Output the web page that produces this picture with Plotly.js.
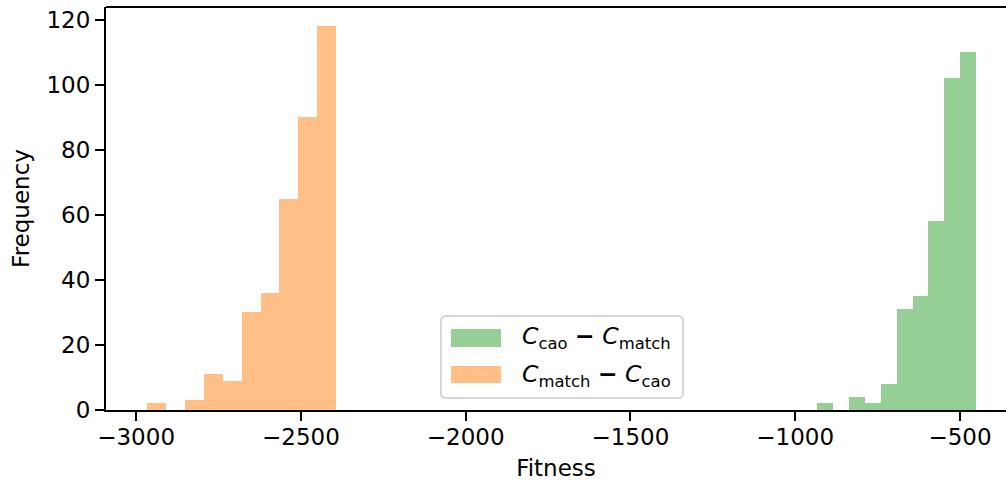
<!DOCTYPE html>
<html>
<head>
<meta charset="utf-8">
<script src="https://cdn.plot.ly/plotly-3.0.1.min.js"></script>
<style>html,body{margin:0;padding:0;background:#fff;overflow:hidden}</style>
</head>
<body>
<div id="chart" style="width:1006px;height:481px"></div>
<script>
// Orange histogram: C_match - C_cao (bin centers and counts)
const orangeCenters = [-2937.1, -2879.9, -2822.6, -2765.4, -2708.2, -2650.9, -2593.7, -2536.5, -2479.3, -2422.0];
const orangeCounts  = [2, 0, 3, 11, 9, 30, 36, 65, 90, 118];
const orangeWidth = 57.23;

// Green histogram: C_cao - C_match
const greenCenters = [-908.3, -860.2, -812.1, -764.0, -715.9, -667.8, -619.7, -571.6, -523.5, -475.4];
const greenCounts  = [2, 0, 4, 2, 8, 31, 35, 58, 102, 110];
const greenWidth = 48.09;

const xTicks = [-3000, -2500, -2000, -1500, -1000, -500];
const xTickLabels = ["−3000", "−2500", "−2000", "−1500", "−1000", "−500"];
const yTicks = [0, 20, 40, 60, 80, 100, 120];

const seriesNames = [
  "<i>C</i><sub>cao</sub> <b>−</b> <i>C</i><sub>match</sub>",
  "<i>C</i><sub>match</sub> <b>−</b> <i>C</i><sub>cao</sub>"
];
const greenColor = "rgba(44,160,44,0.5)";
const orangeColor = "rgba(255,127,14,0.5)";

const font = "DejaVu Sans, sans-serif";

const traces = [
  {
    type: "bar", x: greenCenters, y: greenCounts,
    width: greenCenters.map(() => greenWidth),
    marker: {color: greenColor, line: {width: 0}},
    name: seriesNames[0]
  },
  {
    type: "bar", x: orangeCenters, y: orangeCounts,
    width: orangeCenters.map(() => orangeWidth),
    marker: {color: orangeColor, line: {width: 0}},
    name: seriesNames[1]
  }
];

// manual legend (matplotlib style: wide patches, rounded frame)
const lx0 = 0.3722, lx1 = 0.6411, ly0 = 0.0298, ly1 = 0.2333, r = 0.006;
const legendShapes = [
  {type: "path", xref: "paper", yref: "paper",
   path: `M ${lx0 + r} ${ly0} L ${lx1 - r} ${ly0} Q ${lx1} ${ly0} ${lx1} ${ly0 + r*2} L ${lx1} ${ly1 - r*2} Q ${lx1} ${ly1} ${lx1 - r} ${ly1} L ${lx0 + r} ${ly1} Q ${lx0} ${ly1} ${lx0} ${ly1 - r*2} L ${lx0} ${ly0 + r*2} Q ${lx0} ${ly0} ${lx0 + r} ${ly0} Z`,
   fillcolor: "rgba(255,255,255,0.8)", line: {color: "#d6d6d6", width: 2}},
  {type: "rect", xref: "paper", yref: "paper", x0: 0.3833, x1: 0.4389, y0: 0.1563, y1: 0.2010,
   fillcolor: greenColor, line: {width: 0}},
  {type: "rect", xref: "paper", yref: "paper", x0: 0.3833, x1: 0.4389, y0: 0.0670, y1: 0.1092,
   fillcolor: orangeColor, line: {width: 0}}
];
const legendAnnotations = [
  {xref: "paper", yref: "paper", x: 0.46, y: 0.1787, xanchor: "left", yanchor: "middle",
   text: seriesNames[0], showarrow: false, font: {family: font, size: 23.5, color: "#000"}},
  {xref: "paper", yref: "paper", x: 0.46, y: 0.0868, xanchor: "left", yanchor: "middle",
   text: seriesNames[1], showarrow: false, font: {family: font, size: 23.5, color: "#000"}}
];

const layout = {
  width: 1006, height: 481,
  margin: {l: 106, r: 0, t: 7, b: 71},
  paper_bgcolor: "#fff", plot_bgcolor: "#fff",
  font: {family: font, size: 23, color: "#000"},
  barmode: "overlay",
  bargap: 0,
  showlegend: false,
  xaxis: {
    range: [-3091.4, -360.3],
    tickvals: xTicks, ticktext: xTickLabels,
    ticks: "outside", ticklen: 9, tickwidth: 2, tickcolor: "#000",
    ticklabelstandoff: -4,
    showline: true, linecolor: "#000", linewidth: 2,
    showgrid: false, zeroline: false,
    tickfont: {family: font, size: 23},
    title: {text: "Fitness", font: {family: font, size: 23}, standoff: 16}
  },
  yaxis: {
    range: [0, 123.9],
    tickvals: yTicks,
    ticks: "outside", ticklen: 9, tickwidth: 2, tickcolor: "#000",
    showline: true, linecolor: "#000", linewidth: 2,
    showgrid: false, zeroline: false,
    tickfont: {family: font, size: 23},
    title: {text: "Frequency", font: {family: font, size: 23}, standoff: 10}
  },
  shapes: [
    {type: "line", xref: "paper", yref: "paper", x0: 0, x1: 1, y0: 1, y1: 1,
     line: {color: "#000", width: 2}}
  ].concat(legendShapes),
  annotations: legendAnnotations
};

Plotly.newPlot("chart", traces, layout, {displayModeBar: false, staticPlot: true});
</script>
</body>
</html>
